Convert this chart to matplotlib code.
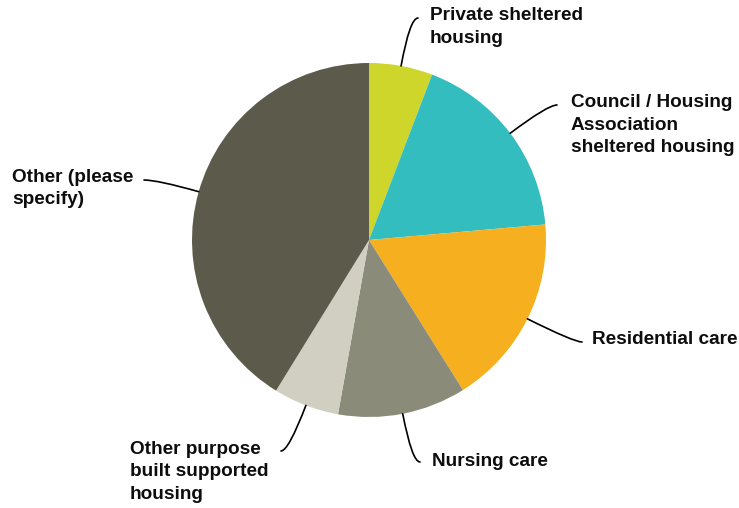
import numpy as np
import matplotlib
matplotlib.use('Agg')
import matplotlib.pyplot as plt

plt.rcParams['font.family'] = ['Liberation Sans', 'DejaVu Sans']

# data, clockwise from 12 o'clock
labels = ['Private sheltered\nhousing', 'Council / Housing\nAssociation\nsheltered housing',
          'Residential care', 'Nursing care', 'Other purpose\nbuilt supported\nhousing',
          'Other (please\nspecify)']
values = [5.8, 17.8, 17.5, 11.7, 6.0, 41.2]
colors = ['#CED52B', '#33BDBF', '#F6AF1F', '#8A8B79', '#D0CFC1', '#5C5B4B']

# label text block positions (pixels, y from top) and leader line ends
text_pos = [(430, 27), (571, 125), (592, 339), (432, 461), (130, 472), (12, 188.5)]
line_end = [(418, 18), (557, 105), (582, 342), (420, 462), (281, 451), (144, 180)]

W, H = 739, 508
CX, CY, R = 369, 240, 177

fig = plt.figure(figsize=(W / 100, H / 100), dpi=100)
ax = fig.add_axes([0, 0, 1, 1])
wedges, _ = ax.pie(values, colors=colors, startangle=90, counterclock=False,
                   center=(CX, H - CY), radius=R, wedgeprops=dict(linewidth=0))
ax.set_xlim(0, W); ax.set_ylim(0, H); ax.set_aspect('equal'); ax.axis('off')

for w, lab, (tx, ty), (lx, ly) in zip(wedges, labels, text_pos, line_end):
    mid = np.deg2rad((w.theta1 + w.theta2) / 2)
    ex, ey = CX + R * np.cos(mid), H - CY + R * np.sin(mid)
    ax.annotate('', xy=(ex, ey), xytext=(lx, H - ly),
                arrowprops=dict(arrowstyle='-', color='black', lw=1.2, shrinkA=0, shrinkB=0,
                                connectionstyle=f'angle3,angleA=0,angleB={np.rad2deg(mid):.1f}'))
    ax.text(tx, H - ty, lab, ha='left', va='center', fontsize=13.7, fontweight='bold',
            color='#0d0d0d', linespacing=1.4)

fig.savefig('out.png', dpi=100, facecolor='white')
